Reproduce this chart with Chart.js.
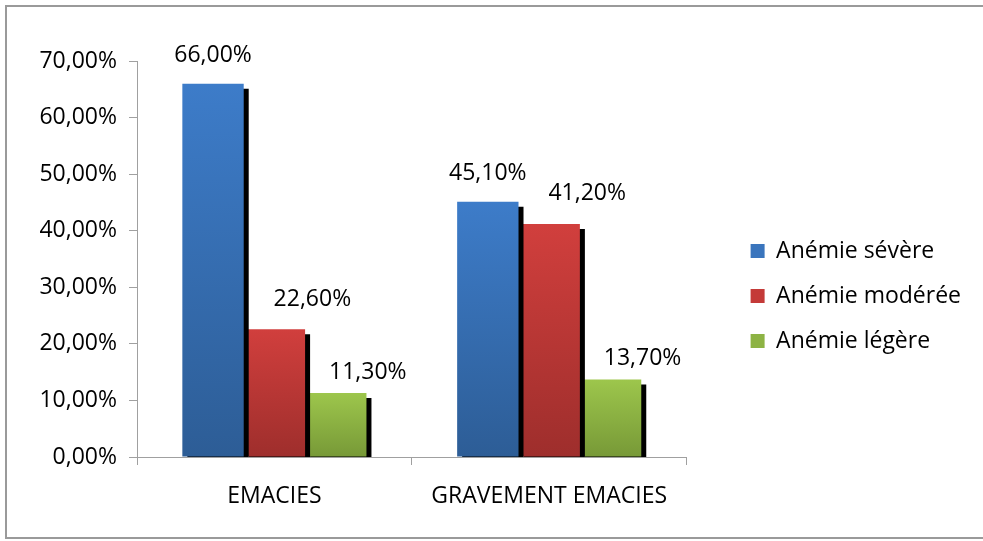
<!doctype html>
<html lang="fr">
    <head>
        <meta charset="UTF-8" />
        <title>Anémie</title>
        <style>
            body { margin: 0; background: #fff; }
            .chartBox { width: 983px; height: 541px; }
        </style>
    </head>
    <body>
        <div class="chartBox">
            <canvas id="myChart" width="983" height="541"></canvas>
        </div>

        <script src="https://cdn.jsdelivr.net/npm/chart.js"></script>
        <script>
            // data
            const categories = ["EMACIES", "GRAVEMENT EMACIES"];
            const severe = [66.0, 45.1];
            const moderee = [22.6, 41.2];
            const legere = [11.3, 13.7];
            const seriesNames = ["Anémie sévère", "Anémie modérée", "Anémie légère"];

            const FONT = "'Open Sans', 'Noto Sans', sans-serif";
            const fmt = (v) => v.toFixed(2).replace(".", ",") + "%";

            // per-bar vertical gradient, light on top, darker at the base
            function grad(top, bottom) {
                return (c) => {
                    const chart = c.chart;
                    if (!chart.chartArea || c.dataIndex === undefined) return top;
                    const y = chart.scales.y;
                    const v = c.dataset.data[c.dataIndex];
                    const g = chart.ctx.createLinearGradient(0, y.getPixelForValue(v), 0, y.getPixelForValue(0));
                    g.addColorStop(0, top);
                    g.addColorStop(1, bottom);
                    return g;
                };
            }

            const data = {
                labels: categories,
                datasets: [
                    { label: seriesNames[0], data: severe, backgroundColor: grad("#3d7cc9", "#2d5d96"), legendColor: "#3a75bd" },
                    { label: seriesNames[1], data: moderee, backgroundColor: grad("#d13f3d", "#9e2e2c"), legendColor: "#c43a38" },
                    { label: seriesNames[2], data: legere, backgroundColor: grad("#9dc64c", "#779937"), legendColor: "#8db344" },
                ],
            };

            // plugin: hard black shadow behind bars
            const barShadow = {
                id: "barShadow",
                beforeDatasetDraw(chart) {
                    const ctx = chart.ctx;
                    ctx.save();
                    ctx.shadowColor = "#000";
                    ctx.shadowOffsetX = 5;
                    ctx.shadowOffsetY = 5;
                    ctx.shadowBlur = 0;
                },
                afterDatasetDraw(chart) {
                    chart.ctx.restore();
                },
            };

            // plugin: value labels above bars (Excel nudges the red/green ones right)
            const labelDx = [0, 38, 32];
            const labelDy = [28, 30, 21];
            const valueLabels = {
                id: "valueLabels",
                afterDatasetsDraw(chart) {
                    const ctx = chart.ctx;
                    ctx.save();
                    ctx.font = "23px " + FONT;
                    ctx.fillStyle = "#000";
                    ctx.textAlign = "center";
                    ctx.textBaseline = "middle";
                    chart.data.datasets.forEach((ds, i) => {
                        chart.getDatasetMeta(i).data.forEach((bar, j) => {
                            ctx.fillText(fmt(ds.data[j]), bar.x + labelDx[i], bar.y - labelDy[i]);
                        });
                    });
                    ctx.restore();
                },
            };

            // plugin: outer frame
            const frame = {
                id: "frame",
                afterDraw(chart) {
                    const ctx = chart.ctx;
                    ctx.save();
                    ctx.strokeStyle = "#9a9a9a";
                    ctx.lineWidth = 2;
                    ctx.strokeRect(6, 6, 990, 532);
                    ctx.restore();
                },
            };

            const config = {
                type: "bar",
                data: data,
                options: {
                    responsive: false,
                    animation: false,
                    categoryPercentage: 0.67,
                    barPercentage: 1,
                    clip: 0,
                    layout: { padding: { left: 10, top: 61, right: 12, bottom: 10 } },
                    scales: {
                        x: {
                            grid: { drawOnChartArea: false, color: "#a0a0a0", tickLength: 8 },
                            border: { color: "#a0a0a0" },
                            ticks: { color: "#000", font: { family: FONT, size: 23 }, padding: 18 },
                            afterFit(s) { s.height = 74; },
                        },
                        y: {
                            min: 0,
                            max: 70,
                            grid: { drawOnChartArea: false, color: "#a0a0a0", tickLength: 8 },
                            border: { color: "#a0a0a0" },
                            ticks: { stepSize: 10, color: "#000", font: { family: FONT, size: 23 }, padding: 12, callback: (v) => fmt(v) },
                            afterFit(s) { s.width = 127; },
                        },
                        spacer: {
                            position: "right",
                            display: true,
                            grid: { display: false },
                            border: { display: false },
                            ticks: { display: false },
                            afterFit(s) { s.width = 42; },
                        },
                    },
                    plugins: {
                        tooltip: { enabled: false },
                        legend: {
                            position: "right",
                            maxWidth: 255,
                            labels: {
                                color: "#000",
                                font: { family: FONT, size: 23 },
                                boxWidth: 14,
                                boxHeight: 14,
                                padding: 22,
                                generateLabels(chart) {
                                    return chart.data.datasets.map((ds, i) => ({
                                        text: ds.label,
                                        fillStyle: ds.legendColor,
                                        strokeStyle: ds.legendColor,
                                        lineWidth: 0,
                                        datasetIndex: i,
                                        fontColor: "#000",
                                    }));
                                },
                            },
                        },
                    },
                },
                plugins: [barShadow, valueLabels, frame],
            };

            new Chart(document.getElementById("myChart").getContext("2d"), config);
        </script>
    </body>
</html>
